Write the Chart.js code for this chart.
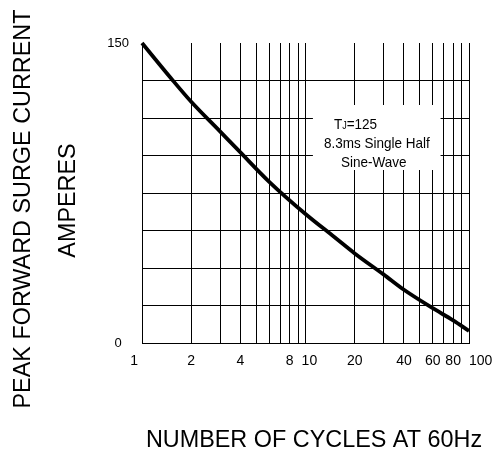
<!DOCTYPE html>
<html>
<head>
<meta charset="utf-8">
<script src="https://cdn.jsdelivr.net/npm/chart.js@4.4.1/dist/chart.umd.min.js"></script>
<style>
  html, body { margin: 0; padding: 0; background: #ffffff; }
  #wrap { width: 494px; height: 454px; }
</style>
</head>
<body>
<div id="wrap"><canvas id="c" width="494" height="454"></canvas></div>
<script>
// ---- data ----
const cycles       = [1, 1.5, 2, 3, 4, 6, 10, 15, 20, 30, 40, 60, 80, 100];
const surgeCurrent = [150, 132.5, 120.6, 105.8, 95.3, 80.6, 64.5, 53, 44.8, 34.3, 26.6, 17.4, 11.3, 6];

const xGridValues = [1, 2, 3, 4, 5, 6, 7, 8, 9, 10, 20, 30, 40, 50, 60, 70, 80, 90, 100];
const xTickLabels = [1, 2, 4, 8, 10, 20, 40, 60, 80, 100];
const yGridValues = [0, 18.75, 37.5, 56.25, 75, 93.75, 112.5, 131.25, 150];
const yTickLabels = [0, 150];

const yTitleLines = ['PEAK FORWARD SURGE CURRENT', 'AMPERES'];
const xTitle = 'NUMBER OF CYCLES AT 60Hz';
const noteLines = ['=125', '8.3ms Single Half', 'Sine-Wave'];
const noteSymbol = ['T', 'J'];
const noteBox = { xMin: 11.1, xMax: 67, yMin: 86.5, yMax: 119 };

const FONT = '"Liberation Sans", Arial, Helvetica, sans-serif';

// small label nudges (spaces) so crowded labels sit like the reference
function xLabel(v) {
  if (!xTickLabels.includes(v)) return '';
  if (v === 1) return '1    ';
  if (v === 10) return '  10';
  if (v === 100) return '      100';
  return String(v);
}

const decorations = {
  id: 'decorations',
  beforeDatasetsDraw(chart) {
    const { ctx, scales: { x, y } } = chart;
    const l = x.getPixelForValue(noteBox.xMin), r = x.getPixelForValue(noteBox.xMax);
    const t = y.getPixelForValue(noteBox.yMax), b = y.getPixelForValue(noteBox.yMin);
    ctx.save();
    ctx.fillStyle = '#ffffff';
    ctx.fillRect(l, t, r - l, b - t);
    ctx.fillStyle = '#000';
    ctx.textBaseline = 'alphabetic';
    ctx.textAlign = 'left';
    const sx = 0.9;
    const drawScaled = (text, px, py, size) => {
      ctx.save();
      ctx.translate(px, py);
      ctx.scale(sx, 1);
      ctx.font = size + 'px ' + FONT;
      ctx.fillText(text, 0, 0);
      const w = ctx.measureText(text).width * sx;
      ctx.restore();
      return w;
    };
    let px = l + 21;
    px += drawScaled(noteSymbol[0], px, t + 24, 15);
    px += drawScaled(noteSymbol[1], px, t + 24, 10);
    drawScaled(noteLines[0], px, t + 24, 15);
    drawScaled(noteLines[1], l + 11, t + 43, 15);
    drawScaled(noteLines[2], l + 28, t + 62, 15);
    ctx.restore();
  },
  afterDraw(chart) {
    const { ctx } = chart;
    ctx.save();
    ctx.fillStyle = '#000';
    ctx.font = '23.4px ' + FONT;
    ctx.textAlign = 'center';
    ctx.textBaseline = 'middle';
    ctx.fillText(xTitle, 314, 441);
    const yPos = [[24, 209], [68.5, 200.5]];
    yTitleLines.forEach((line, i) => {
      ctx.save();
      ctx.translate(yPos[i][0], yPos[i][1]);
      ctx.rotate(-Math.PI / 2);
      ctx.fillText(line, 0, 0);
      ctx.restore();
    });
    ctx.restore();
  }
};

new Chart(document.getElementById('c'), {
  type: 'line',
  data: {
    datasets: [{
      data: cycles.map((c, i) => ({ x: c, y: surgeCurrent[i] })),
      borderColor: '#000',
      borderWidth: 3.8,
      pointRadius: 0,
      cubicInterpolationMode: 'monotone',
      fill: false,
      clip: false
    }]
  },
  options: {
    responsive: false,
    animation: false,
    devicePixelRatio: 1,
    layout: { padding: { top: 43, right: 25, left: 0, bottom: 0 } },
    plugins: { legend: { display: false }, tooltip: { enabled: false } },
    scales: {
      x: {
        type: 'logarithmic',
        min: 1, max: 100,
        afterBuildTicks: s => { s.ticks = xGridValues.map(v => ({ value: v })); },
        afterFit: s => { s.height = 111; s.paddingLeft = 0; s.paddingRight = 0; },
        ticks: {
          autoSkip: false, maxRotation: 0, minRotation: 0, padding: 10,
          color: '#000', font: { size: 14, family: FONT },
          callback: v => xLabel(v)
        },
        grid: { color: '#000', lineWidth: 1, drawTicks: false },
        border: { color: '#000', width: 1 }
      },
      y: {
        type: 'linear',
        min: 0, max: 150,
        afterBuildTicks: s => { s.ticks = yGridValues.map(v => ({ value: v })); },
        afterFit: s => { s.width = 142; s.paddingTop = 0; s.paddingBottom = 0; },
        ticks: {
          crossAlign: 'center', padding: 13,
          color: '#000', font: { size: 13, family: FONT },
          callback: v => yTickLabels.includes(v) ? String(v) : ''
        },
        grid: {
          color: c => (c.tick && c.tick.value === 150) ? 'rgba(0,0,0,0)' : '#000',
          lineWidth: 1, drawTicks: false
        },
        border: { color: '#000', width: 1 }
      }
    }
  },
  plugins: [decorations]
});
</script>
</body>
</html>
